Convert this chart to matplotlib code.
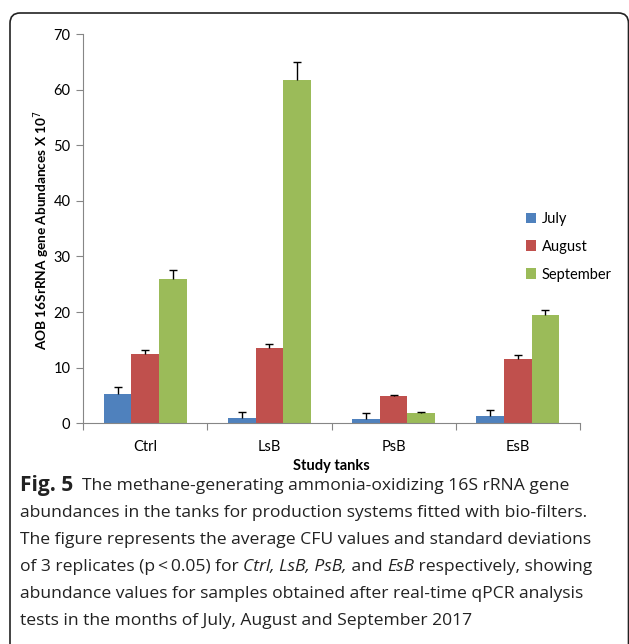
import matplotlib
matplotlib.use("Agg")
import matplotlib.pyplot as plt
from matplotlib.patches import FancyBboxPatch
import numpy as np

plt.rcParams['font.family'] = ['Lato', 'DejaVu Sans']

# data
tanks = ["Ctrl", "LsB", "PsB", "EsB"]
months = ["July", "August", "September"]
july = [5.35, 0.96, 0.78, 1.35]
july_err = [1.15, 1.1, 1.1, 1.1]
august = [12.5, 13.45, 4.86, 11.55]
august_err = [0.65, 0.75, 0.3, 0.65]
september = [26.0, 61.7, 1.9, 19.4]
september_err = [1.5, 3.2, 0.15, 0.95]

colors = ["#4F81BD", "#C0504D", "#9BBB59"]

W, H = 629, 644
fig = plt.figure(figsize=(W / 100, H / 100), dpi=100)

# rounded frame around figure + caption (bottom runs off the page)
frame = FancyBboxPatch((10 / W, -0.1), 618.5 / W, 1.1 - 13 / H,
                       boxstyle="round,pad=0,rounding_size=0.016",
                       transform=fig.transFigure, fill=False,
                       edgecolor="#222222", linewidth=1.2, clip_on=False)
fig.patches.append(frame)

ax = fig.add_axes([83 / W, 1 - 423.3 / H, (580 - 83) / W, (423.3 - 34) / H])

x = np.arange(len(tanks))
bw = 2 / 9
series = [(july, july_err), (august, august_err), (september, september_err)]
for i, (vals, errs) in enumerate(series):
    pos = x + (i - 1) * bw
    vals = np.array(vals)
    tops = vals + np.array(errs)
    ax.bar(pos, vals, width=bw, color=colors[i], label=months[i], zorder=2)
    # upper-only error bars
    ax.vlines(pos, vals, tops, color="black", linewidth=1, zorder=3)
    ax.scatter(pos, tops, marker="_", s=30, color="black", linewidths=1, zorder=3)

ax.set_xlim(-0.5, len(tanks) - 0.5)
ax.set_ylim(0, 70)
ax.set_yticks(range(0, 71, 10))
ax.tick_params(axis="y", direction="out", length=5, color="#868686",
               labelsize=10.5, pad=4)
ax.set_xticks(np.arange(-0.5, len(tanks), 1.0))
ax.set_xticks(x, minor=True)
ax.set_xticklabels([])
ax.set_xticklabels(tanks, minor=True)
ax.tick_params(axis="x", which="major", direction="out", length=5, color="#868686")
ax.tick_params(axis="x", which="minor", length=0, labelsize=10.5, pad=12)
for s in ["top", "right"]:
    ax.spines[s].set_visible(False)
for s in ["left", "bottom"]:
    ax.spines[s].set_color("#868686")

fig.text(331 / W, 1 - 466 / H, "Study tanks", ha="center", va="center",
         fontsize=10.5, fontweight="bold")
fig.text(42 / W, 1 - 230 / H, "AOB 16SrRNA gene Abundances X 10$^7$",
         rotation=90, ha="center", va="center", fontsize=9.8, fontweight="bold")

ax.legend(loc="upper left", bbox_to_anchor=(520 / W, 1 - 206 / H),
          bbox_transform=fig.transFigure, frameon=False, fontsize=10.5,
          handlelength=0.7, handleheight=0.7, handletextpad=0.4,
          labelspacing=0.95, borderaxespad=0)

# caption, written piece by piece so italics can be mixed in
cfont = dict(fontsize=12.6, family=["Open Sans", "DejaVu Sans"], color="#222222")
cap = [
    [("Fig. 5", "bold"), ("  The methane-generating ammonia-oxidizing 16S rRNA gene", "normal")],
    [("abundances in the tanks for production systems fitted with bio-filters.", "normal")],
    [("The figure represents the average CFU values and standard deviations", "normal")],
    [("of 3 replicates (p\u2009<\u20090.05) for ", "normal"), ("Ctrl, LsB, PsB,", "italic"),
     (" and ", "normal"), ("EsB", "italic"), (" respectively, showing", "normal")],
    [("abundance values for samples obtained after real-time qPCR analysis", "normal")],
    [("tests in the months of July, August and September 2017", "normal")],
]
renderer = fig.canvas.get_renderer()
for k, line in enumerate(cap):
    xpix = 20
    ypos = 1 - (486 + 27 * k) / H
    for txt, sty in line:
        kw = dict(cfont)
        if sty == "bold":
            kw["fontweight"] = "bold"
            kw["fontsize"] = 15
        elif sty == "italic":
            kw["style"] = "italic"
        t = fig.text(xpix / W, ypos, txt, va="center", **kw)
        xpix += t.get_window_extent(renderer).width

fig.savefig("out.png", dpi=100)
